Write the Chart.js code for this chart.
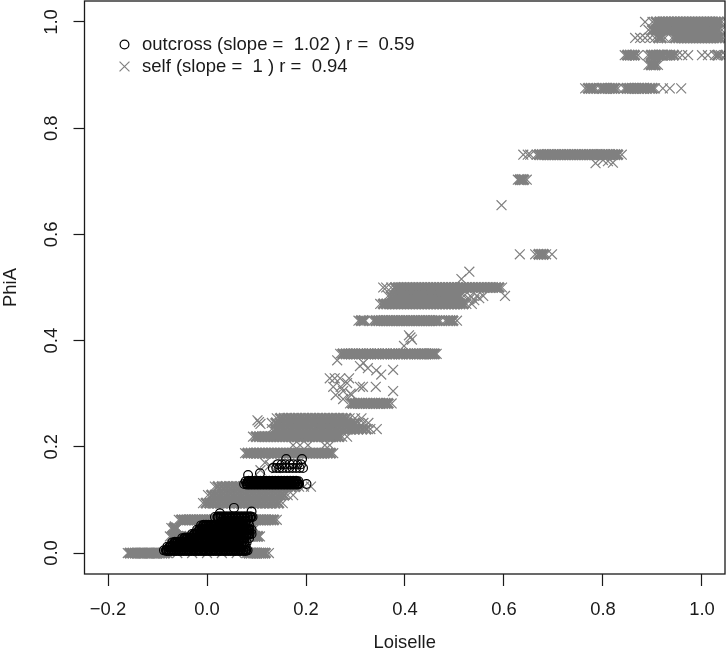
<!DOCTYPE html>
<html>
<head>
<meta charset="utf-8">
<title>PhiA vs Loiselle</title>
<script src="https://cdn.jsdelivr.net/npm/chart.js@4/dist/chart.umd.js"></script>
<style>
    html, body { margin: 0; padding: 0; background: #fff; }
    canvas { display: block; }
</style>
</head>
<body>
<canvas id="kinshipChart" width="726" height="652"></canvas>
<script>
const xTicks = [-0.2, 0, 0.2, 0.4, 0.6, 0.8, 1];
const xTickLabels = ['\u22120.2', '0.0', '0.2', '0.4', '0.6', '0.8', '1.0'];
const yTicks = [0, 0.2, 0.4, 0.6, 0.8, 1];
const yTickLabels = ['0.0', '0.2', '0.4', '0.6', '0.8', '1.0'];
const legendLabels = ['outcross (slope =  1.02 ) r =  0.59', 'self (slope =  1 ) r =  0.94'];

// selfed pairs, PhiA falls on discrete levels so one list of Loiselle per level
const selfLevels = [0, .03125, .047, .0625, .094, .109, .125, .188, .219, .2335, .245, .2536, .2816, .375, .4375, .469, .484, .5, .5625, .703, .75, .875, .919, .9375, .97, .985, 1];
const selfRows = [
    [-.16,-.156,-.151,-.146,-.142,-.137,-.132,-.128,-.123,-.118,-.114,-.109,-.104,-.1,-.095,-.09,-.085,-.08,-.06,-.03,0,.03,.06,.08,.084,.088,.093,.097,.101,.106,.11,.114,.118,.125],
    [-.075,-.07,-.064,-.058,-.052,-.045,-.038,-.02,.01,.04,.07,.088,.093,.098,.103,.107],
    [-.072,-.067,-.066,-.062,-.06,.086,.091,.097],
    [-.057,-.052,-.047,-.042,-.037,-.032,-.027,-.022,-.017,-.012,-.007,-.002,.003,.008,.013,.018,.05,.09,.095,.1,.105,.11,.115,.12,.125,.13,.135,.141],
    [-.008,-.002,.005,.012,.019,.026,.033,.04,.047,.054,.061,.068,.075,.082,.089,.096,.103,.11,.117,.124,.131,.138,.145,.153],
    [.002,.009,.016,.023,.03,.037,.044,.051,.058,.065,.072,.079,.086,.093,.1,.107,.114,.121,.128,.135,.142,.149,.156,.163,.174],
    [.016,.022,.03,.037,.044,.051,.058,.065,.072,.079,.086,.093,.1,.107,.114,.121,.128,.135,.142,.149,.156,.163,.17,.178,.186,.196,.21],
    [.077,.082,.088,.094,.1,.106,.112,.118,.124,.13,.136,.142,.148,.154,.16,.166,.172,.178,.184,.19,.196,.202,.208,.214,.22,.226,.232,.238,.244,.25,.255],
    [.093,.099,.105,.111,.117,.123,.129,.135,.141,.147,.153,.159,.165,.171,.177,.183,.189,.195,.201,.207,.213,.219,.225,.231,.237,.243,.249,.255,.261,.267,.273,.283],
    [.131,.138,.145,.152,.159,.166,.173,.18,.187,.194,.201,.208,.215,.222,.229,.236,.243,.25,.257,.264,.271,.278,.285,.292,.299,.306,.314,.322,.33,.343],
    [.131,.139,.147,.155,.163,.171,.179,.187,.195,.203,.211,.219,.227,.235,.243,.251,.259,.267,.275,.283,.291,.299,.307,.316,.326],
    [.141,.148,.155,.162,.169,.176,.183,.19,.197,.204,.211,.218,.225,.232,.239,.246,.253,.26,.267,.274,.281,.288,.299,.312],
    [.289,.294,.299,.304,.309,.314,.32,.325,.33,.335,.34,.346,.351,.356,.361,.366,.373],
    [.269,.274,.28,.285,.29,.295,.3,.306,.311,.316,.322,.327,.332,.338,.343,.348,.354,.359,.364,.37,.375,.38,.386,.391,.396,.402,.407,.412,.418,.423,.428,.433,.438,.443,.448,.452,.456,.46,.464],
    [.306,.311,.316,.32,.336,.341,.346,.351,.356,.361,.366,.371,.376,.381,.386,.391,.396,.401,.406,.411,.416,.421,.426,.431,.436,.441,.446,.451,.456,.461,.466,.471,.482,.487,.492,.497,.505],
    [.35,.356,.362,.368,.374,.38,.386,.392,.398,.404,.41,.416,.422,.428,.434,.44,.446,.452,.458,.464,.47,.476,.482,.488,.494,.5,.506,.512,.518,.524,.535],
    [.366,.372,.379,.385,.391,.397,.403,.409,.415,.421,.427,.433,.439,.445,.451,.457,.463,.469,.475,.481,.487,.493,.499,.505,.511,.519,.532,.545,.558],
    [.356,.362,.372,.38,.386,.392,.398,.404,.41,.416,.422,.428,.434,.44,.446,.452,.458,.464,.47,.476,.482,.488,.494,.5,.506,.512,.518,.524,.53,.536,.542,.548,.554,.56,.566,.572,.578,.584,.59,.596],
    [.632,.663,.67,.675,.68,.685,.697],
    [.628,.632,.636,.64,.646],
    [.639,.648,.653,.666,.671,.676,.681,.686,.691,.696,.701,.706,.711,.716,.721,.726,.731,.736,.741,.746,.751,.756,.761,.766,.771,.776,.781,.786,.79,.795,.8,.805,.81,.815,.82,.825,.83,.838],
    [.764,.77,.775,.78,.785,.794,.799,.804,.809,.814,.819,.824,.83,.843,.848,.853,.858,.863,.868,.873,.878,.883,.889,.895,.9,.905,.921,.935,.958],
    [.892,.897,.902,.906,.911],
    [.844,.849,.854,.859,.864,.871,.891,.897,.902,.907,.912,.917,.922,.93,.936,.943,.95,.96,.972,1,1.012,1.026,1.032,1.038,1.047],
    [.865,.875,.885,.895,.905,.912,.918,.925,.94,.946,.952,.958,.964,.97,.976,.982,.988,.994,1,1.006,1.012,1.018,1.024,1.03,1.036,1.042],
    [.892,.9,.907,.914,.921,.928,.935,.942,.949,.956,.963,.97,.977,.984,.991,.998,1.005,1.012,1.019,1.026,1.033,1.04],
    [.885,.9,.907,.914,.92,.926,.932,.938,.944,.95,.956,.962,.968,.974,.98,.986,.992,.998,1.004,1.01,1.016,1.022,1.028,1.034,1.04]
];
const selfExtraX = [-.065,-.068,.117,.108,.127,.14,.105,.102,.108,.174,.188,.204,.238,.248,.263,.309,.316,.325,.342,.352,.376,.248,.258,.269,.287,.255,.27,.275,.283,.292,.309,.315,.341,.376,.26,.275,.29,.411,.408,.414,.398,.53,.514,.602,.595,.785,.80,.81,.82,.53,.54,.55];
const selfExtraY = [.05,.043,.17,.156,.165,.16,.2467,.25,.243,.203,.203,.203,.203,.203,.363,.352,.358,.348,.344,.336,.345,.329,.329,.329,.329,.313,.313,.305,.32,.298,.313,.313,.313,.305,.2975,.29,.3,.406,.41,.402,.39,.5297,.516,.484,.655,.734,.74,.738,.735,.478,.476,.48];

// outcrossed pairs
const outLevels = [.005, .012, .02, .028, .036, .044, .052, .06, .068, .13, .135, .16, .167];
const outRows = [
    [-.087,-.082,-.077,-.072,-.067,-.062,-.057,-.052,-.047,-.042,-.037,-.032,-.027,-.022,-.017,-.012,-.007,-.002,.003,.008,.013,.018,.023,.028,.033,.038,.043,.048,.053,.058,.063,.068,.073,.078,.082],
    [-.08,-.075,-.07,-.065,-.06,-.055,-.05,-.045,-.04,-.035,-.03,-.025,-.02,-.015,-.01,-.005,0,.005,.01,.015,.02,.025,.03,.035,.04,.045,.05,.055,.06,.065,.07,.078],
    [-.07,-.065,-.06,-.055,-.05,-.045,-.04,-.035,-.03,-.025,-.02,-.015,-.01,-.005,0,.005,.01,.015,.02,.025,.03,.035,.04,.045,.05,.055,.06,.065,.07,.075,.08],
    [-.05,-.045,-.04,-.035,-.03,-.025,-.02,-.015,-.01,-.005,0,.005,.01,.015,.02,.025,.03,.035,.04,.045,.05,.055,.06,.065,.07,.075,.085],
    [-.03,-.025,-.02,-.015,-.01,-.005,0,.005,.01,.015,.02,.025,.03,.035,.04,.045,.05,.055,.06,.065,.07,.075,.08,.085,.09],
    [-.02,-.015,-.01,-.005,0,.005,.01,.015,.02,.025,.03,.035,.04,.045,.05,.055,.06,.065,.07,.075,.08,.085,.09],
    [-.012,-.007,-.002,.003,.008,.013,.018,.023,.028,.033,.038,.043,.048,.053,.058,.063,.068,.073,.078,.085],
    [.03,.036,.042,.048,.054,.06,.066,.072,.078,.084],
    [.016,.022,.028,.034,.04,.046,.052,.058,.064,.07,.076,.082,.088,.092],
    [.075,.081,.087,.093,.099,.105,.111,.117,.123,.129,.135,.141,.147,.153,.159,.165,.171,.177,.183,.186,.201],
    [.078,.084,.09,.096,.102,.108,.114,.12,.126,.132,.138,.144,.15,.156,.162,.168,.174,.18,.185],
    [.133,.14,.146,.153,.16,.166,.173,.18,.187,.194],
    [.143,.151,.158,.167,.174,.183,.19]
];
const outExtraX = [.0545,.09,.026,.083,.107,.16,.192];
const outExtraY = [.085,.078,.075,.147,.15,.177,.177];

const SELF_GREY = '#808080';
const AXIS_COLOR = '#1a1a1a';

function toPoints(levels, rows, extraX, extraY) {
    const pts = [];
    rows.forEach((row, i) => row.forEach(x => pts.push({ x: x, y: levels[i] })));
    extraX.forEach((x, i) => pts.push({ x: x, y: extraY[i] }));
    return pts;
}

// overplotted runs print as solid ink in the original, so marks inside a run get a heavier stroke
function strokeWidths(rows, extraX, gap, thin, thick) {
    const widths = [];
    rows.forEach(row => row.forEach((x, i) => {
        const inside = i > 0 && i < row.length - 1 && x - row[i - 1] <= gap && row[i + 1] - x <= gap;
        widths.push(inside ? thick : thin);
    }));
    extraX.forEach(() => widths.push(thin));
    return widths;
}

// R style frame, rotated y labels and the legend inside the plot
const frameAndLegend = {
    id: 'frameAndLegend',
    afterDraw(chart) {
        const ctx = chart.ctx;
        const area = chart.chartArea;
        const yScale = chart.scales.y;

        ctx.save();
        ctx.strokeStyle = AXIS_COLOR;
        ctx.lineWidth = 1.3;
        ctx.strokeRect(area.left, area.top, area.right - area.left, area.bottom - area.top);

        ctx.fillStyle = AXIS_COLOR;
        ctx.font = '18.4px "Liberation Sans"';
        ctx.textAlign = 'center';
        ctx.textBaseline = 'middle';
        yTicks.forEach((v, i) => {
            ctx.save();
            ctx.translate(52, yScale.getPixelForValue(v));
            ctx.rotate(-Math.PI / 2);
            ctx.fillText(yTickLabels[i], 0, 0);
            ctx.restore();
        });

        ctx.font = '18.5px "Liberation Sans"';
        ctx.textAlign = 'left';
        ctx.fillText(legendLabels[0], 142, 44.8);
        ctx.fillText(legendLabels[1], 142, 66.8);

        ctx.fillStyle = 'transparent';
        ctx.strokeStyle = '#000';
        ctx.lineWidth = 1.2;
        Chart.helpers.drawPoint(ctx, { pointStyle: 'circle', rotation: 0, radius: 4.4, borderWidth: 1.2 }, 124.5, 44.5);
        ctx.strokeStyle = SELF_GREY;
        Chart.helpers.drawPoint(ctx, { pointStyle: 'crossRot', rotation: 0, radius: 7, borderWidth: 1.2 }, 124.5, 66.5);
        ctx.restore();
    }
};

new Chart(document.getElementById('kinshipChart'), {
    type: 'scatter',
    plugins: [frameAndLegend],
    data: {
        datasets: [
            {
                label: 'outcross',
                data: toPoints(outLevels, outRows, outExtraX, outExtraY),
                pointStyle: 'circle',
                pointRadius: 4.4,
                pointBorderWidth: strokeWidths(outRows, outExtraX, .0065, 1.2, 2.4),
                pointBorderColor: '#000',
                pointBackgroundColor: 'transparent'
            },
            {
                label: 'self',
                data: toPoints(selfLevels, selfRows, selfExtraX, selfExtraY),
                pointStyle: 'crossRot',
                pointRadius: 7,
                pointBorderWidth: strokeWidths(selfRows, selfExtraX, .0085, 1.2, 2.6),
                pointBorderColor: SELF_GREY
            }
        ]
    },
    options: {
        responsive: false,
        animation: false,
        events: [],
        layout: { autoPadding: false, padding: { top: 1, right: 1, left: 0, bottom: 0 } },
        plugins: {
            legend: { display: false },
            tooltip: { enabled: false }
        },
        scales: {
            x: {
                type: 'linear',
                min: -0.2475,
                max: 1.0465,
                afterBuildTicks: s => { s.ticks = xTicks.map(v => ({ value: v })); },
                afterFit: s => { s.height = 78; s.paddingLeft = 0; s.paddingRight = 0; },
                ticks: {
                    autoSkip: false,
                    maxRotation: 0,
                    padding: 13,
                    color: AXIS_COLOR,
                    font: { family: '"Liberation Sans"', size: 18.4 },
                    callback: (value, i) => xTickLabels[i]
                },
                grid: { drawOnChartArea: false, tickLength: 12, tickColor: AXIS_COLOR, tickWidth: 1.2 },
                border: { display: false },
                title: {
                    display: true,
                    text: 'Loiselle',
                    color: AXIS_COLOR,
                    padding: { top: 0, bottom: -2 },
                    font: { family: '"Liberation Sans"', size: 18.4 }
                }
            },
            y: {
                type: 'linear',
                min: -0.0395,
                max: 1.0395,
                afterBuildTicks: s => { s.ticks = yTicks.map(v => ({ value: v })); },
                afterFit: s => { s.width = 84.5; },
                ticks: { display: false },
                grid: { drawOnChartArea: false, tickLength: 11, tickColor: AXIS_COLOR, tickWidth: 1.2 },
                border: { display: false },
                title: {
                    display: true,
                    text: 'PhiA',
                    color: AXIS_COLOR,
                    padding: 0,
                    font: { family: '"Liberation Sans"', size: 18.4 }
                }
            }
        }
    }
});
</script>
</body>
</html>
